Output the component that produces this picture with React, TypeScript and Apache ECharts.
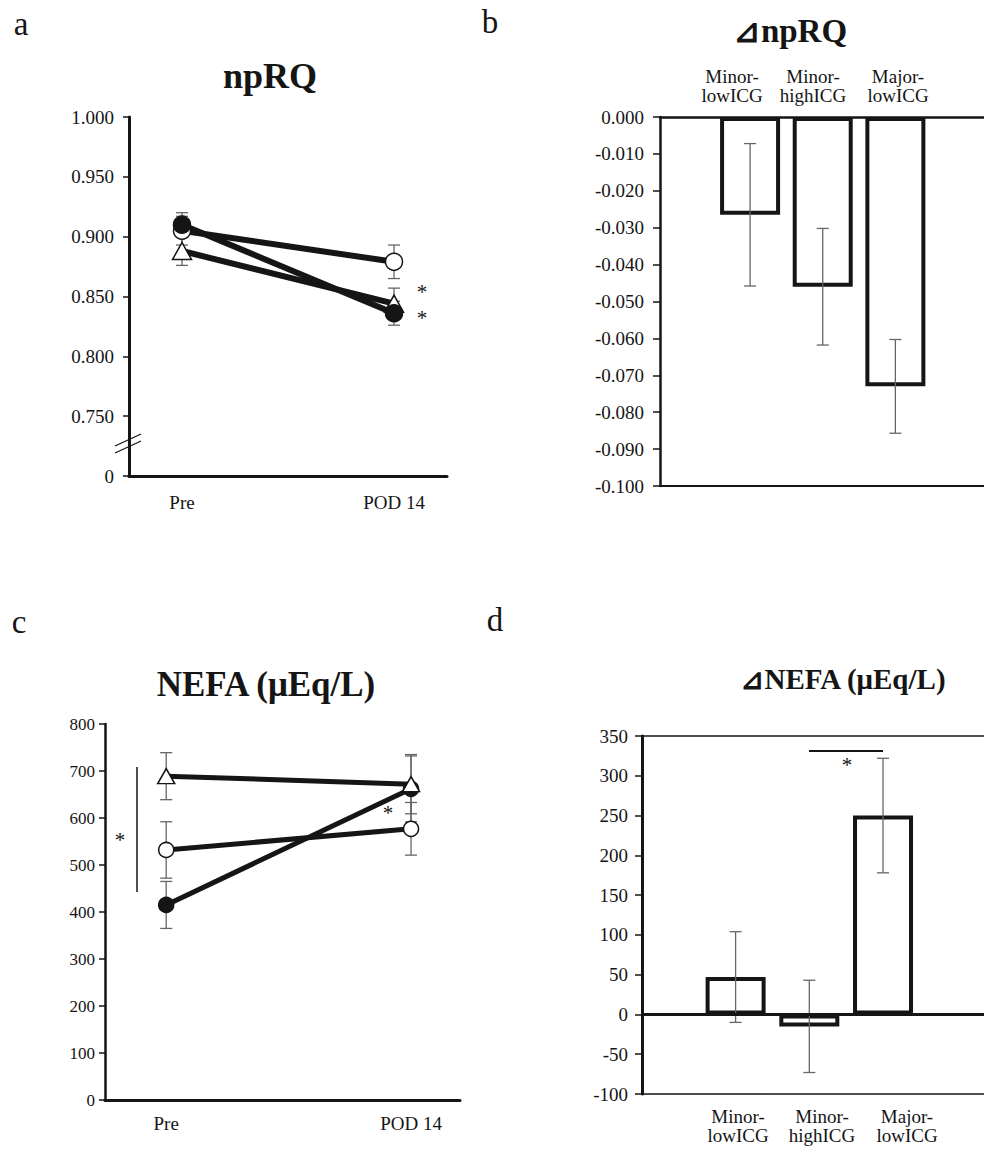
import React, { useEffect, useRef } from 'react';
import * as echarts from 'echarts';

const timepoints = ['Pre', 'POD 14'];
const groups = ['Minor-lowICG', 'Minor-highICG', 'Major-lowICG'];

// panel a : npRQ (Pre, POD 14) with SE
const npRQMinorLow = [0.905, 0.879];
const npRQMinorLowErr = [0.012, 0.014];
const npRQMinorHigh = [0.888, 0.844];
const npRQMinorHighErr = [0.012, 0.013];
const npRQMajorLow = [0.91, 0.836];
const npRQMajorLowErr = [0.01, 0.01];
const npRQTickLabels = ['0', '0.750', '0.800', '0.850', '0.900', '0.950', '1.000'];

// panel b : delta npRQ
const dNpRQ = [-0.0265, -0.046, -0.073];
const dNpRQErr = [0.0193, 0.0158, 0.0127];

// panel c : NEFA (μEq/L)
const nefaMinorLow = [532, 577];
const nefaMinorLowErr = [60, 56];
const nefaMinorHigh = [689, 672];
const nefaMinorHighErr = [50, 63];
const nefaMajorLow = [415, 662];
const nefaMajorLowErr = [50, 70];

// panel d : delta NEFA
const dNefa = [47, -15, 250];
const dNefaErr = [57, 58, 72];

const SERIF = "'Liberation Serif', 'Times New Roman', serif";
const INK = '#151515';
const ERR = '#666';

function splitGroup(name: string) {
  const k = name.indexOf('-');
  return name.slice(0, k + 1) + '\n' + name.slice(k + 1);
}

function errData(vals: number[], errs: number[]) {
  return vals.map((v, i) => [i, v, v - errs[i], v + errs[i]]);
}

function errSeries(xi: number, yi: number, data: number[][], capW: number, z: number) {
  return {
    type: 'custom',
    xAxisIndex: xi,
    yAxisIndex: yi,
    data,
    z,
    silent: true,
    encode: { x: 0, y: 1 },
    renderItem: (_p: any, api: any) => {
      const x = api.value(0);
      const lo = api.value(2);
      const hi = api.value(3);
      const a = api.coord([x, hi]);
      const b = api.coord([x, lo]);
      const st = { stroke: ERR, lineWidth: 1.3 };
      return {
        type: 'group',
        children: [
          { type: 'line', shape: { x1: a[0], y1: a[1], x2: b[0], y2: b[1] }, style: st },
          { type: 'line', shape: { x1: a[0] - capW, y1: a[1], x2: a[0] + capW, y2: a[1] }, style: st },
          { type: 'line', shape: { x1: b[0] - capW, y1: b[1], x2: b[0] + capW, y2: b[1] }, style: st },
        ],
      };
    },
  };
}

function lineSeries(xi: number, yi: number, name: string, vals: number[], symbol: string, fill: string, size: any, width: number) {
  return {
    type: 'line',
    name,
    xAxisIndex: xi,
    yAxisIndex: yi,
    data: vals.map((v, i) => [i, v]),
    symbol,
    symbolSize: size,
    showSymbol: true,
    lineStyle: { color: INK, width },
    itemStyle: { color: fill, borderColor: INK, borderWidth: 1.5 },
    z: 2,
  };
}

function timeLabel(v: number) {
  const i = Math.round(v);
  return Math.abs(v - i) < 1e-6 && i >= 0 && i < timepoints.length ? timepoints[i] : '';
}

const noLabelX = (gi: number, min: number, max: number, position: string, width: number, show = true) => ({
  type: 'value',
  gridIndex: gi,
  min,
  max,
  position,
  axisLine: { show, onZero: false, lineStyle: { color: INK, width } },
  axisTick: { show: false },
  axisLabel: { show: false },
  splitLine: { show: false },
});

export default function App() {
  const ref = useRef<HTMLDivElement>(null);
  useEffect(() => {
    if (!ref.current) return;
    const chart = echarts.init(ref.current, undefined, { renderer: 'svg' });

    const txt = (x: number, y: number, text: string, size: number, bold = false, align = 'center', extra: any = {}) => ({
      type: 'text',
      x,
      y,
      silent: true,
      style: {
        text,
        fill: INK,
        font: `${bold ? 'bold ' : ''}${size}px ${SERIF}`,
        textAlign: align,
        textVerticalAlign: 'middle',
        ...extra,
      },
    });
    const seg = (x1: number, y1: number, x2: number, y2: number, w: number) => ({
      type: 'line',
      silent: true,
      shape: { x1, y1, x2, y2 },
      style: { stroke: INK, lineWidth: w },
    });

    const bLabelX = [732, 813, 898];
    const dLabelX = [738, 822, 907];

    const option: any = {
      animation: false,
      backgroundColor: '#fff',
      textStyle: { fontFamily: SERIF },
      grid: [
        { left: 129, top: 117, width: 318, height: 359 },
        { left: 660, top: 117, width: 330, height: 369 },
        { left: 105, top: 724, width: 355, height: 376 },
        { left: 642, top: 736, width: 350, height: 358 },
      ],
      xAxis: [
        {
          type: 'value',
          gridIndex: 0,
          min: -0.25,
          max: 1.25,
          interval: 0.25,
          axisLine: { onZero: false, lineStyle: { color: INK, width: 3 } },
          axisTick: { show: false },
          splitLine: { show: false },
          axisLabel: { formatter: timeLabel, color: INK, fontFamily: SERIF, fontSize: 19, margin: 17 },
        },
        noLabelX(1, -1.24, 3.22, 'bottom', 2),
        noLabelX(1, -1.24, 3.22, 'top', 2.5),
        {
          type: 'value',
          gridIndex: 2,
          min: -0.25,
          max: 1.2,
          interval: 0.25,
          axisLine: { onZero: false, lineStyle: { color: INK, width: 3 } },
          axisTick: { show: false },
          splitLine: { show: false },
          axisLabel: { formatter: timeLabel, color: INK, fontFamily: SERIF, fontSize: 19, margin: 14 },
        },
        noLabelX(3, -1.27, 3.37, 'bottom', 1.5),
        noLabelX(3, -1.27, 3.37, 'top', 1.5),
      ],
      yAxis: [
        {
          type: 'value',
          gridIndex: 0,
          min: 0.7,
          max: 1.0,
          interval: 0.05,
          axisLine: { show: true, onZero: false, lineStyle: { color: INK, width: 3 } },
          axisTick: { show: true, length: 6, lineStyle: { color: INK, width: 1.5 } },
          splitLine: { show: false },
          axisLabel: {
            formatter: (v: number) => npRQTickLabels[Math.round((v - 0.7) / 0.05)] ?? '',
            color: INK,
            fontFamily: SERIF,
            fontSize: 19,
            margin: 15,
          },
        },
        {
          type: 'value',
          gridIndex: 1,
          min: -0.1,
          max: 0,
          interval: 0.01,
          axisLine: { show: true, onZero: false, lineStyle: { color: INK, width: 2.5 } },
          axisTick: { show: true, length: 7, lineStyle: { color: INK, width: 1.5 } },
          splitLine: { show: false },
          axisLabel: {
            formatter: (v: number) => (Math.abs(v) < 1e-9 ? 0 : v).toFixed(3),
            color: INK,
            fontFamily: SERIF,
            fontSize: 19,
            margin: 16,
          },
        },
        {
          type: 'value',
          gridIndex: 2,
          min: 0,
          max: 800,
          interval: 100,
          axisLine: { show: true, onZero: false, lineStyle: { color: INK, width: 2.5 } },
          axisTick: { show: true, length: 6, lineStyle: { color: INK, width: 1.5 } },
          splitLine: { show: false },
          axisLabel: { color: INK, fontFamily: SERIF, fontSize: 17, margin: 10 },
        },
        {
          type: 'value',
          gridIndex: 3,
          min: -100,
          max: 350,
          interval: 50,
          axisLine: { show: true, onZero: false, lineStyle: { color: INK, width: 3 } },
          axisTick: { show: true, length: 7, lineStyle: { color: INK, width: 1.5 } },
          splitLine: { show: false },
          axisLabel: { color: INK, fontFamily: SERIF, fontSize: 19, margin: 14 },
        },
      ],
      series: [
        // panel a
        errSeries(0, 0, errData(npRQMinorHigh, npRQMinorHighErr), 6, 1),
        errSeries(0, 0, errData(npRQMinorLow, npRQMinorLowErr), 6, 1),
        errSeries(0, 0, errData(npRQMajorLow, npRQMajorLowErr), 6, 1),
        lineSeries(0, 0, groups[1], npRQMinorHigh, 'triangle', '#fff', [19, 17], 6),
        lineSeries(0, 0, groups[0], npRQMinorLow, 'circle', '#fff', 17, 6),
        lineSeries(0, 0, groups[2], npRQMajorLow, 'circle', INK, 17, 6),
        // panel b
        {
          type: 'bar',
          xAxisIndex: 1,
          yAxisIndex: 1,
          data: dNpRQ.map((v, i) => [i, v]),
          barWidth: 60,
          itemStyle: { color: '#fff', borderColor: INK, borderWidth: 4 },
          z: 2,
        },
        errSeries(1, 1, errData(dNpRQ, dNpRQErr), 6, 3),
        // panel c
        errSeries(3, 2, errData(nefaMajorLow, nefaMajorLowErr), 6, 1),
        errSeries(3, 2, errData(nefaMinorLow, nefaMinorLowErr), 6, 1),
        errSeries(3, 2, errData(nefaMinorHigh, nefaMinorHighErr), 6, 1),
        lineSeries(3, 2, groups[2], nefaMajorLow, 'circle', INK, 15, 5),
        lineSeries(3, 2, groups[0], nefaMinorLow, 'circle', '#fff', 15, 5),
        lineSeries(3, 2, groups[1], nefaMinorHigh, 'triangle', '#fff', [17, 15], 5),
        // panel d
        {
          type: 'bar',
          xAxisIndex: 4,
          yAxisIndex: 3,
          data: dNefa.map((v, i) => [i, v]),
          barWidth: 60,
          itemStyle: { color: '#fff', borderColor: INK, borderWidth: 4 },
          z: 2,
          markLine: {
            silent: true,
            symbol: 'none',
            label: { show: false },
            lineStyle: { color: INK, width: 3, type: 'solid' },
            data: [{ yAxis: 0 }],
            z: 4,
          },
        },
        errSeries(4, 3, errData(dNefa, dNefaErr), 6, 3),
      ],
      graphic: [
        // panel letters & titles
        txt(21, 24, 'a', 33),
        txt(270, 76, 'npRQ', 36, true),
        txt(490, 22, 'b', 33),
        txt(790, 31, '⊿npRQ', 33, true),
        txt(19, 622, 'c', 33),
        txt(266, 684, 'NEFA (μEq/L)', 35, true),
        txt(495, 620, 'd', 33),
        txt(843, 679, '⊿NEFA (μEq/L)', 29, true),
        // panel a annotations
        seg(115, 453, 141, 441, 1.3),
        seg(115, 446, 141, 434, 1.3),
        txt(422, 292, '*', 21),
        txt(422, 318, '*', 21),
        // panel b category labels
        ...groups.map((g, i) => txt(bLabelX[i], 86, splitGroup(g), 19, false, 'center', { lineHeight: 19 })),
        // panel c annotations
        seg(137, 767, 137, 892, 1.5),
        txt(120, 840, '*', 21),
        txt(388, 813, '*', 21),
        // panel d annotations
        seg(809, 751, 883, 751, 2),
        txt(847, 765, '*', 21),
        ...groups.map((g, i) => txt(dLabelX[i], 1126, splitGroup(g), 19, false, 'center', { lineHeight: 19 })),
      ],
    };
    chart.setOption(option);
    return () => chart.dispose();
  }, []);
  return <div ref={ref} style={{ position: 'absolute', left: 0, top: 0, width: 984, height: 1151 }} />;
}
